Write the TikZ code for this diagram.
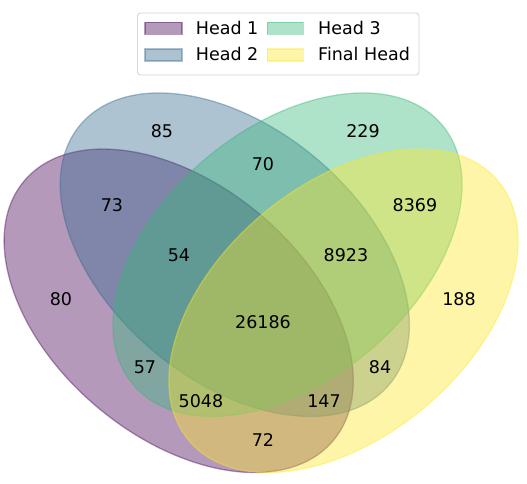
\documentclass[tikz,border=0pt]{standalone}
\usepackage{fontspec}
\setmainfont{DejaVu Sans}
\definecolor{vA}{HTML}{440154}
\definecolor{vB}{HTML}{31688E}
\definecolor{vC}{HTML}{35B779}
\definecolor{vD}{HTML}{FDE725}
\definecolor{legframe}{HTML}{D6D6D6}
\begin{document}
\begin{tikzpicture}[x=1pt,y=1pt,
  vset/.style={fill=#1, draw=#1, fill opacity=0.4, draw opacity=0.4, line width=1.3pt},
  num/.style={font=\fontsize{17.5}{21}\selectfont, inner sep=0pt, text=black},
  legtext/.style={font=\fontsize{17.5}{21}\selectfont, inner sep=0pt, anchor=base west, text=black},
  legpatch/.style={fill=#1, draw=#1, fill opacity=0.4, draw opacity=0.4, line width=1.3pt}]
\useasboundingbox (0,0) rectangle (527,484);
% sets
\path[vset=vA] (178.7,173.2) ellipse [x radius=201.8, y radius=126.1, rotate=140];
\path[vset=vB] (234.8,229.3) ellipse [x radius=201.8, y radius=126.1, rotate=140];
\path[vset=vC] (287.5,229.3) ellipse [x radius=201.8, y radius=126.1, rotate=40];
\path[vset=vD] (343.5,173.2) ellipse [x radius=201.8, y radius=126.1, rotate=40];
% region counts
\node[num] (n0100) at (162,353) {85};
\node[num] (n0010) at (363,353) {229};
\node[num] (n0110) at (263,320) {70};
\node[num] (n1100) at (112,279) {73};
\node[num] (n0011) at (415,279) {8369};
\node[num] (n1110) at (179,229) {54};
\node[num] (n0111) at (346,229) {8923};
\node[num] (n1000) at (61,185) {80};
\node[num] (n0001) at (459,185) {188};
\node[num] (n1111) at (263,162) {26186};
\node[num] (n1010) at (145,117) {57};
\node[num] (n0101) at (380,117) {84};
\node[num] (n1011) at (201,83) {5048};
\node[num] (n1101) at (324,83) {147};
\node[num] (n1001) at (263,44) {72};
% legend
\path[fill=white, fill opacity=0.8, draw=legframe, line width=0.9pt, rounded corners=3pt] (137.5,409) rectangle (419,471);
\path[legpatch=vA] (145,449.7) rectangle (182,461.7);
\path[legpatch=vB] (145,423) rectangle (182,435);
\path[legpatch=vC] (267.3,449.7) rectangle (303.3,461.7);
\path[legpatch=vD] (267.3,423) rectangle (303.3,435);
\node[legtext] (l1) at (195.7,449.7) {Head 1};
\node[legtext] (l2) at (195.7,423) {Head 2};
\node[legtext] (l3) at (318,449.7) {Head 3};
\node[legtext] (l4) at (318,423) {Final Head};
\end{tikzpicture}
\end{document}
